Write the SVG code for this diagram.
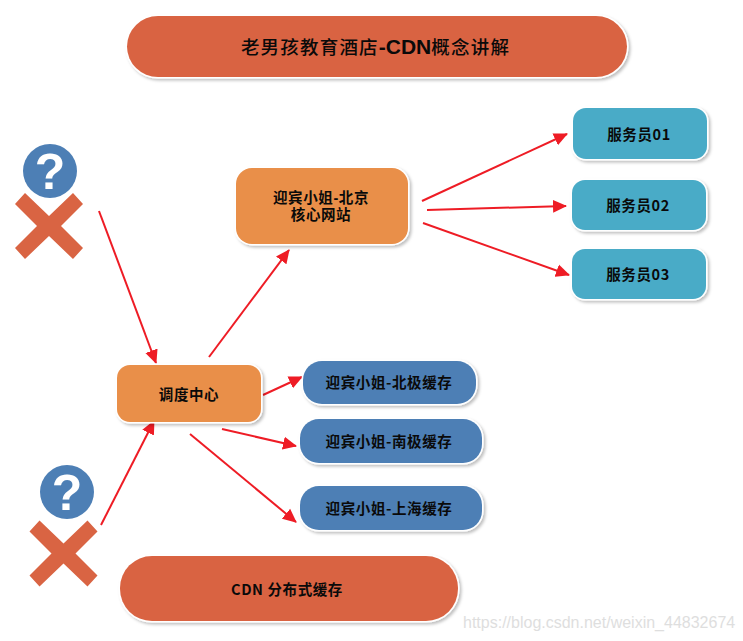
<svg xmlns="http://www.w3.org/2000/svg" width="743" height="641" viewBox="0 0 743 641">
<style>
.n{stroke:#fff;stroke-width:3;paint-order:stroke;filter:url(#sh)}
.o{fill:#e98f49}.b{fill:#4d7fb5}.t{fill:#4aabc7}.r{fill:#d96443}
text{font-family:"Noto Sans CJK SC","Liberation Sans",sans-serif;text-anchor:middle;fill:#0a0a0a;font-weight:700;font-size:14.5px;letter-spacing:.6px}
.tight{font-family:"Liberation Sans","Noto Sans CJK SC",sans-serif}
.title{font-size:18.500px;font-weight:500;letter-spacing:1.200px}
.cdn{font-family:"Liberation Sans",sans-serif;font-weight:700;font-size:21px;letter-spacing:0}
.q{font-family:"Liberation Sans",sans-serif;fill:#fff;font-size:50px;font-weight:700;letter-spacing:0}
.wm{font-family:"Liberation Sans",sans-serif;fill:#dedede;font-size:16px;font-weight:400;text-anchor:start;letter-spacing:0}
.c{stroke:#ee1c25;stroke-width:2;fill:none;marker-end:url(#ah)}
</style>
<defs>
<filter id="sh" x="-10%" y="-20%" width="120%" height="140%"><feDropShadow dx="2" dy="2" stdDeviation="1.5" flood-color="#000" flood-opacity=".25"/></filter>
<marker id="ah" markerUnits="userSpaceOnUse" markerWidth="14" markerHeight="14" viewBox="0 0 14 14" refX="13" refY="7" orient="auto"><path d="M0 0.5L14 7L0 13.5z" fill="#ee1c25"/></marker>
<path id="x" d="M-24 -33L0 -10L24 -33L34 -22L12 0L34 22L24 33L0 10L-24 33L-34 22L-12 0L-34 -22z" fill="#d96443"/>
</defs>
<rect width="743" height="641" fill="#fff"/>
<g id="connectors">
<line class="c" x1="99" y1="211" x2="156" y2="363"/>
<line class="c" x1="209" y1="357" x2="289" y2="250"/>
<line class="c" x1="263" y1="395" x2="302" y2="377"/>
<line class="c" x1="222" y1="429" x2="296" y2="446"/>
<line class="c" x1="190" y1="434" x2="296" y2="522"/>
<line class="c" x1="101" y1="525" x2="154" y2="421"/>
<line class="c" x1="422" y1="201" x2="567" y2="134"/>
<line class="c" x1="427" y1="210" x2="566" y2="206"/>
<line class="c" x1="423" y1="223" x2="569" y2="275"/>
</g>
<g id="title"><rect class="n r" x="127" y="16" width="500" height="61" rx="31"/><text class="title" x="375.500" y="54">老男孩教育酒店<tspan class="cdn">-CDN</tspan>概念讲解</text></g>
<g id="q1"><circle cx="50" cy="171" r="27" class="b"/><text class="q" x="50" y="189">?</text></g>
<g id="x1"><use href="#x" x="49" y="226"/></g>
<g id="q2"><circle cx="67" cy="492" r="27" class="b"/><text class="q" x="67" y="510">?</text></g>
<g id="x2"><use href="#x" x="63.500" y="553.500"/></g>
<g id="core"><rect class="n o" x="236" y="168" width="172" height="76" rx="16"/><text class="tight" x="321" y="203">迎宾小姐-北京</text><text class="tight" x="321" y="220">核心网站</text></g>
<g id="dispatch"><rect class="n o" x="117" y="365" width="144" height="57" rx="13"/><text x="189" y="400">调度中心</text></g>
<g id="s1"><rect class="n t" x="573" y="108" width="134" height="51" rx="13"/><text x="639" y="140">服务员01</text></g>
<g id="s2"><rect class="n t" x="572" y="180" width="134" height="50" rx="13"/><text x="638" y="211">服务员02</text></g>
<g id="s3"><rect class="n t" x="572" y="249" width="134" height="50" rx="13"/><text x="638" y="280">服务员03</text></g>
<g id="c1"><rect class="n b" x="303" y="361" width="173" height="43" rx="19"/><text x="389" y="388">迎宾小姐-北极缓存</text></g>
<g id="c2"><rect class="n b" x="300" y="419" width="182" height="44" rx="19"/><text x="389" y="447">迎宾小姐-南极缓存</text></g>
<g id="c3"><rect class="n b" x="300" y="486" width="182" height="44" rx="19"/><text x="389" y="514">迎宾小姐-上海缓存</text></g>
<g id="cdn"><rect class="n r" x="120" y="556" width="338" height="65" rx="32"/><text x="287" y="595">CDN 分布式缓存</text></g>
<text class="wm" x="463" y="628">https://blog.csdn.net/weixin_44832674</text>
</svg>
